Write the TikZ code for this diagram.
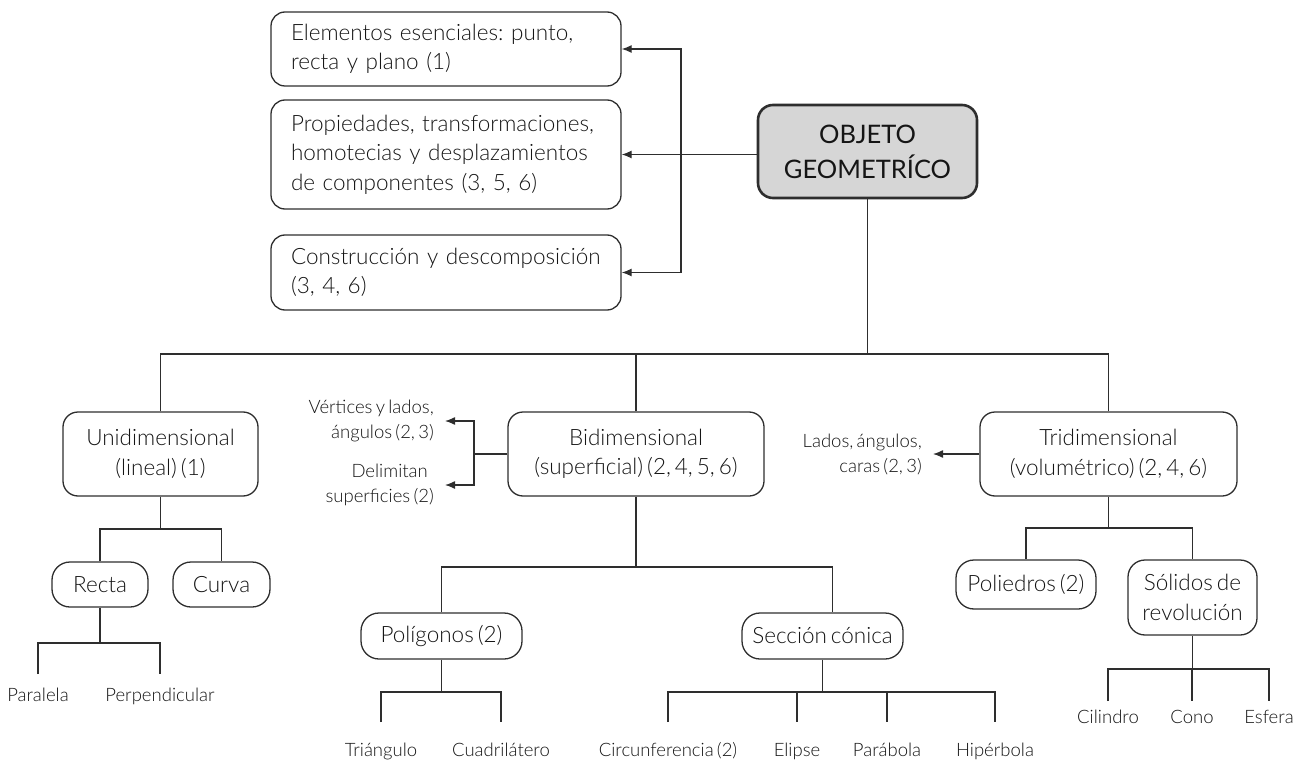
\documentclass[tikz,border=0pt]{standalone}
\usepackage{fontspec}
\setmainfont{Lato Light}[WordSpace=0.65]
\newfontfamily\headfont{Lato}
\usetikzlibrary{arrows.meta}
\frenchspacing
\definecolor{ink}{HTML}{2E2E2E}
\definecolor{txt}{HTML}{151515}
\definecolor{rootfill}{HTML}{D6D6D6}
\tikzset{
  conn/.style={draw=ink, line width=1.3pt},
  arr/.style={conn, -{Latex[length=10pt,width=8pt]}},
  card/.style={draw=ink, line width=1.3pt, rounded corners=15pt, text=txt,
    inner sep=0pt, align=center, font=\fontsize{22.5}{29.5}\selectfont},
  pill/.style={card, rounded corners=18pt},
  sidebox/.style={card, rounded corners=14pt, align=left, text width=310pt,
    minimum width=350pt},
  note/.style={text=txt, inner ysep=0pt, inner xsep=11pt, align=right,
    anchor=east, font=\fontsize{18.5}{25}\selectfont},
  leaf/.style={text=txt, inner sep=0pt, anchor=north, text height=13.3pt,
    text depth=4pt, font=\fontsize{18.5}{24}\selectfont},
}
\begin{document}
\begin{tikzpicture}[x=1pt,y=-1pt]
\useasboundingbox (0,0) rectangle (1301,762);

% root and the three general aspects
\node[card, fill=rootfill, line width=2.6pt, minimum width=219pt, minimum height=93pt,
      font=\headfont\fontsize{25.5}{35}\selectfont] (root) at (867.5,151.5) {OBJETO\\GEOMETRÍCO};
\node[sidebox, minimum height=74pt] (elem) at (446,49) {Elementos esenciales: punto,\\recta y plano (1)};
\node[sidebox, minimum height=109pt] (prop) at (446,154.5) {Propiedades, transformaciones,\\homotecias y desplazamientos\\de componentes (3, 5, 6)};
\node[sidebox, minimum height=75pt] (cons) at (446,272.5) {Construcción y descomposición\\(3, 4, 6)};

% dimensions
\node[card, minimum width=195pt, minimum height=84pt] (uni) at (160.5,454) {Unidimensional\\(lineal) (1)};
\node[card, minimum width=256pt, minimum height=84pt] (bi) at (636,454) {Bidimensional\\(superficial) (2, 4, 5, 6)};
\node[card, minimum width=257pt, minimum height=84pt] (tri) at (1108.5,454) {Tridimensional\\(volumétrico) (2, 4, 6)};

% side notes
\node[note] (vert) at (445,421) {Vértices y lados,\\ángulos (2, 3)};
\node[note] (delim) at (445,485) {Delimitan\hspace*{6pt}\\superficies (2)};
\node[note] (lados) at (933,454) {Lados, ángulos,\\caras (2, 3)};

% sub-classes
\node[pill, minimum width=96pt, minimum height=45pt] (recta) at (100,584.5) {Recta};
\node[pill, minimum width=97pt, minimum height=45pt] (curva) at (221.5,584.5) {Curva};
\node[pill, minimum width=161pt, minimum height=46pt] (polig) at (441.5,636) {Polígonos (2)};
\node[pill, minimum width=161pt, minimum height=46pt] (sec) at (822.5,636) {Sección cónica};
\node[pill, minimum width=140pt, minimum height=49pt] (polie) at (1026,584.5) {Poliedros (2)};
\node[card, rounded corners=17pt, minimum width=129pt, minimum height=75pt] (sol) at (1192.5,597.5) {Sólidos de\\revolución};

% leaves
\node[leaf] (para) at (38,688) {Paralela};
\node[leaf] (perp) at (160,688) {Perpendicular};
\node[leaf] (trian) at (381,743) {Triángulo};
\node[leaf] (cuad) at (501,743) {Cuadrilátero};
\node[leaf] (circ) at (668,743) {Circunferencia (2)};
\node[leaf] (elip) at (797,743) {Elipse};
\node[leaf] (parab) at (887,743) {Parábola};
\node[leaf] (hiper) at (995,743) {Hipérbola};
\node[leaf] (cil) at (1108,710) {Cilindro};
\node[leaf] (cono) at (1192,710) {Cono};
\node[leaf] (esf) at (1269,710) {Esfera};

% levels of the horizontal bars
\coordinate (jx) at (681,0);
\coordinate (sx) at (474,0);
\coordinate (lvl1) at (0,354);
\coordinate (lvl2) at (0,529);
\coordinate (lvl3) at (0,643);
\coordinate (lvl4) at (0,567);
\coordinate (lvl5) at (0,692);
\coordinate (lvl6) at (0,528);
\coordinate (lvl7) at (0,669);
\coordinate (secin) at ([xshift=10pt]sec.north);

% root to general aspects
\draw[arr] (root.west |- prop.east) -- (prop.east);
\draw[arr] (prop.east -| jx) |- (elem.east);
\draw[arr] (prop.east -| jx) |- (cons.east);

% root to dimensions
\draw[conn] (root.south) -- (root.south |- lvl1);
\draw[conn] (uni.north) |- (lvl1 -| tri.north) -- (tri.north);
\draw[conn] (bi.north) -- (bi.north |- lvl1);

% unidimensional
\draw[conn] (uni.south) -- (uni.south |- lvl2);
\draw[conn] (recta.north) |- (lvl2 -| curva.north) -- (curva.north);
\draw[conn] (recta.south) -- (recta.south |- lvl3);
\draw[conn, shorten <=14pt, shorten >=14pt] (para.north) |- (lvl3 -| perp.north) -- (perp.north);

% bidimensional
\draw[conn] (bi.west) -- (bi.west -| sx);
\draw[arr] (bi.west -| sx) |- (vert.east);
\draw[arr] (bi.west -| sx) |- (delim.east);
\draw[conn] (bi.south) -- (bi.south |- lvl4);
\draw[conn] (polig.north) |- (lvl4 -| secin) -- (secin);
\draw[conn] (polig.south) -- (polig.south |- lvl5);
\draw[conn, shorten <=21pt, shorten >=21pt] (trian.north) |- (lvl5 -| cuad.north) -- (cuad.north);
\draw[conn] (sec.south) -- (sec.south |- lvl5);
\draw[conn, shorten <=21pt, shorten >=21pt] (circ.north) |- (lvl5 -| hiper.north) -- (hiper.north);
\draw[conn, shorten >=21pt] (lvl5 -| elip.north) -- (elip.north);
\draw[conn, shorten >=21pt] (lvl5 -| parab.north) -- (parab.north);

% tridimensional
\draw[arr] (tri.west) -- (lados.east);
\draw[conn] (tri.south) -- (tri.south |- lvl6);
\draw[conn] (polie.north) |- (lvl6 -| sol.north) -- (sol.north);
\draw[conn] (sol.south) -- (sol.south |- lvl7);
\draw[conn, shorten <=9pt, shorten >=9pt] (cil.north) |- (lvl7 -| esf.north) -- (esf.north);
\draw[conn, shorten >=9pt] (lvl7 -| cono.north) -- (cono.north);
\end{tikzpicture}
\end{document}
